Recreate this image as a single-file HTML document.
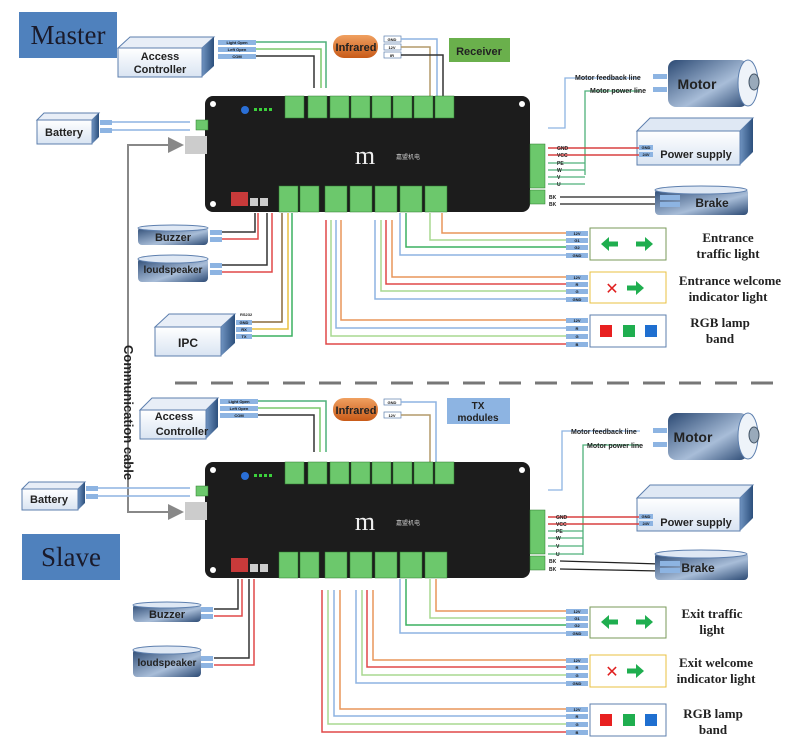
<!DOCTYPE html>
<html><head><meta charset="utf-8"><style>
html,body{margin:0;padding:0;background:#fff;}
svg{display:block;}
text{font-family:"Liberation Sans",sans-serif;}
.t{font-size:4px;fill:#111;font-weight:bold;text-anchor:middle;}
.bl{font-weight:bold;fill:#222;}
.sr{font-family:"Liberation Serif",serif;font-weight:bold;fill:#222;font-size:13px;text-anchor:middle;}
.big{font-family:"Liberation Serif",serif;font-size:27px;fill:#1a1a2a;text-anchor:middle;}
</style></head><body>
<svg width="800" height="746" viewBox="0 0 800 746" xmlns="http://www.w3.org/2000/svg">
<defs>
<linearGradient id="bx" x1="0" y1="0" x2="0" y2="1"><stop offset="0" stop-color="#fff"/><stop offset="1" stop-color="#d9e4f2"/></linearGradient>
<linearGradient id="sd" x1="0" y1="0" x2="1" y2="0"><stop offset="0" stop-color="#6f93c0"/><stop offset="1" stop-color="#2c4f7c"/></linearGradient>
<linearGradient id="cy" x1="0" y1="0" x2="1" y2="1"><stop offset="0" stop-color="#2c4a74"/><stop offset=".6" stop-color="#a8bdd8"/><stop offset="1" stop-color="#2c4a74"/></linearGradient>
<linearGradient id="or" x1="0" y1="0" x2="0" y2="1"><stop offset="0" stop-color="#f0a060"/><stop offset="1" stop-color="#c85a18"/></linearGradient>
<marker id="ar" markerWidth="8" markerHeight="8" refX="7" refY="4" orient="auto"><path d="M0,0 L8,4 L0,8z" fill="#888"/></marker>
<path id="ra" d="M0,-2.5 L9,-2.5 L9,-7 L17,0 L9,7 L9,2.5 L0,2.5z" fill="#1fae4f"/>
<path id="la" d="M0,-2.5 L-9,-2.5 L-9,-7 L-17,0 L-9,7 L-9,2.5 L0,2.5z" fill="#1fae4f"/>
<g id="board">
<rect x="205" y="0" width="325" height="116" rx="8" fill="#1c1c1c"/>
<circle cx="213" cy="8" r="3" fill="#fff"/><circle cx="522" cy="8" r="3" fill="#fff"/><circle cx="213" cy="108" r="3" fill="#fff"/>
<circle cx="245" cy="14" r="4" fill="#2a6fd6"/>
<g fill="#3cd13c"><rect x="254" y="12" width="3" height="3"/><rect x="259" y="12" width="3" height="3"/><rect x="264" y="12" width="3" height="3"/><rect x="269" y="12" width="3" height="3"/></g>
<g fill="#6cc86c" stroke="#2a7a2a" stroke-width=".5">
<rect x="285" y="0" width="19" height="22"/><rect x="308" y="0" width="19" height="22"/><rect x="330" y="0" width="19" height="22"/><rect x="351" y="0" width="19" height="22"/><rect x="372" y="0" width="19" height="22"/><rect x="393" y="0" width="19" height="22"/><rect x="414" y="0" width="19" height="22"/><rect x="435" y="0" width="19" height="22"/>
<rect x="279" y="90" width="19" height="26"/><rect x="300" y="90" width="19" height="26"/><rect x="325" y="90" width="22" height="26"/><rect x="350" y="90" width="22" height="26"/><rect x="375" y="90" width="22" height="26"/><rect x="400" y="90" width="22" height="26"/><rect x="425" y="90" width="22" height="26"/>
<rect x="530" y="48" width="15" height="44"/><rect x="530" y="94" width="15" height="14"/>
<rect x="196" y="24" width="12" height="10"/>
</g>
<rect x="231" y="96" width="17" height="14" fill="#c83a3a"/>
<rect x="250" y="102" width="8" height="8" fill="#ccc"/><rect x="260" y="102" width="8" height="8" fill="#ccc"/>
<rect x="185" y="40" width="22" height="18" fill="#ccc"/>
<text x="365" y="68" style="font-family:'Liberation Serif',serif;font-size:26px;fill:#eee" text-anchor="middle">m</text>
<text x="396" y="63" font-size="6" fill="#ccc" style="font-family:'Liberation Sans','Noto Sans CJK SC',sans-serif">嘉盟机电</text>
</g>
</defs>

<line x1="175" y1="383" x2="780" y2="383" stroke="#777" stroke-width="3" stroke-dasharray="22,14"/>

<polyline points="182,145 128,145 128,512 182,512" fill="none" stroke="#888" stroke-width="2" marker-end="url(#ar)"/>
<line x1="128" y1="145" x2="182" y2="145" stroke="#888" stroke-width="2" marker-end="url(#ar)"/>
<text x="0" y="0" transform="translate(124,345) rotate(90)" font-size="13" class="bl">Communication cable</text>

<!-- MASTER -->
<rect x="19" y="12" width="98" height="46" fill="#4f81bd"/>
<text x="68" y="44" class="big">Master</text>

<polygon points="118,48 130,37 214,37 202,48" fill="#e8eef7" stroke="#5d7fae"/>
<polygon points="202,48 214,37 214,66 202,77" fill="url(#sd)"/>
<rect x="118" y="48" width="84" height="29" fill="url(#bx)" stroke="#5d7fae"/>
<text x="160" y="60" font-size="11" class="bl" text-anchor="middle">Access</text>
<text x="160" y="73" font-size="11" class="bl" text-anchor="middle">Controller</text>
<g fill="#8db4e2"><rect x="218" y="40" width="38" height="5"/><rect x="218" y="47" width="38" height="5"/><rect x="218" y="54" width="38" height="5"/></g>
<text class="t" x="237" y="44">Light Open</text><text class="t" x="237" y="51">Left Open</text><text class="t" x="237" y="58">COM</text>
<polyline points="256,42 326,42 326,88" fill="none" stroke="#4fb07a" stroke-width="1.5"/>
<polyline points="256,49 321,49 321,88" fill="none" stroke="#7ac96b" stroke-width="1.5"/>
<polyline points="256,56 314,56 314,88" fill="none" stroke="#333" stroke-width="1.5"/>

<rect x="333" y="35" width="45" height="23" rx="11" fill="url(#or)"/>
<text x="356" y="51" font-size="11" fill="#222" font-weight="bold" text-anchor="middle">Infrared</text>
<g fill="#fff" stroke="#5d7fae" stroke-width=".7"><rect x="384" y="36" width="17" height="6"/><rect x="384" y="44" width="17" height="6"/><rect x="384" y="52" width="17" height="6"/></g>
<text class="t" x="392" y="41">GND</text><text class="t" x="392" y="49">12V</text><text class="t" x="392" y="57">IR</text>
<polyline points="401,39 437,39 437,96" fill="none" stroke="#8db4e2" stroke-width="1.5"/>
<polyline points="401,47 430,47 430,96" fill="none" stroke="#b39a6a" stroke-width="1.5"/>
<polyline points="401,55 443,55 443,96" fill="none" stroke="#333" stroke-width="1.5"/>
<rect x="449" y="38" width="61" height="24" fill="#6ab04c"/>
<text x="479" y="55" font-size="11" class="bl" text-anchor="middle">Receiver</text>

<polygon points="37,120 44,113 99,113 92,120" fill="#e8eef7" stroke="#5d7fae"/>
<polygon points="92,120 99,113 99,137 92,144" fill="url(#sd)"/>
<rect x="37" y="120" width="55" height="24" fill="url(#bx)" stroke="#5d7fae"/>
<text x="64" y="136" font-size="11" class="bl" text-anchor="middle">Battery</text>
<g fill="#8db4e2"><rect x="100" y="120" width="12" height="5"/><rect x="100" y="128" width="12" height="5"/></g>
<line x1="112" y1="122" x2="190" y2="122" stroke="#8db4e2" stroke-width="1.5"/>
<line x1="112" y1="130" x2="190" y2="130" stroke="#8db4e2" stroke-width="1.5"/>

<use href="#board" y="96"/>

<polyline points="548,128 565,128 565,78 640,78" fill="none" stroke="#8db4e2" stroke-width="1.3"/>
<polyline points="585,175 585,91 640,91" fill="none" stroke="#4fb07a" stroke-width="1.3"/>
<text x="575" y="80" font-size="7" class="bl">Motor feedback line</text>
<text x="590" y="93" font-size="7" class="bl">Motor power line</text>
<rect x="653" y="74" width="14" height="5" fill="#8db4e2"/><rect x="653" y="87" width="14" height="5" fill="#8db4e2"/>
<rect x="668" y="60" width="80" height="47" rx="8" fill="url(#cy)"/>
<ellipse cx="748" cy="83" rx="10" ry="23" fill="#eef3f9" stroke="#5d7fae"/>
<ellipse cx="754" cy="82" rx="5" ry="8" fill="#9ab" stroke="#456"/>
<text x="697" y="89" font-size="14" class="bl" text-anchor="middle">Motor</text>

<polygon points="637,131 650,118 753,118 740,131" fill="#dfe8f4" stroke="#5d7fae"/>
<polygon points="740,131 753,118 753,152 740,165" fill="url(#sd)"/>
<rect x="637" y="131" width="103" height="34" fill="url(#bx)" stroke="#5d7fae"/>
<rect x="639" y="145" width="14" height="5" fill="#8db4e2"/><rect x="639" y="152" width="14" height="5" fill="#8db4e2"/>
<text class="t" x="646" y="149">GND</text><text class="t" x="646" y="156">24V</text>
<text x="696" y="158" font-size="11" class="bl" text-anchor="middle">Power supply</text>
<line x1="548" y1="148" x2="639" y2="148" stroke="#d94040" stroke-width="1.5"/>
<line x1="548" y1="155" x2="639" y2="155" stroke="#d94040" stroke-width="1.5"/>
<g stroke="#4fb07a" stroke-width="1.3"><line x1="548" y1="163" x2="585" y2="163"/><line x1="548" y1="170" x2="585" y2="170"/><line x1="548" y1="177" x2="585" y2="177"/><line x1="548" y1="184" x2="585" y2="184"/></g>
<g font-size="5" class="bl"><text x="557" y="150">GND</text><text x="557" y="157">VCC</text><text x="557" y="165">PE</text><text x="557" y="172">W</text><text x="557" y="179">V</text><text x="557" y="186">U</text><text x="549" y="199">BK</text><text x="549" y="206">BK</text></g>
<line x1="560" y1="197" x2="660" y2="197" stroke="#222" stroke-width="1.3"/>
<line x1="560" y1="204" x2="660" y2="204" stroke="#222" stroke-width="1.3"/>
<rect x="655" y="189" width="93" height="26" rx="4" fill="url(#cy)"/>
<ellipse cx="701" cy="190" rx="46" ry="4" fill="#dfe8f4" stroke="#5d7fae"/>
<rect x="660" y="195" width="20" height="5" fill="#8db4e2"/><rect x="660" y="202" width="20" height="5" fill="#8db4e2"/>
<text x="712" y="207" font-size="12" class="bl" text-anchor="middle">Brake</text>

<g fill="none" stroke-width="1.5">
<polyline points="442,213 442,233 568,233" stroke="#e8955a"/>
<polyline points="430,213 430,240 568,240" stroke="#a8d890"/>
<polyline points="406,213 406,247 568,247" stroke="#3cb060"/>
<polyline points="400,213 400,255 568,255" stroke="#8db4e2"/>
<polyline points="392,220 392,277 568,277" stroke="#e8955a"/>
<polyline points="386,220 386,284 568,284" stroke="#e04848"/>
<polyline points="381,220 381,291 568,291" stroke="#a8d890"/>
<polyline points="375,220 375,299 568,299" stroke="#8db4e2"/>
<polyline points="341,220 341,320 568,320" stroke="#e8955a"/>
<polyline points="336,220 336,328 568,328" stroke="#8db4e2"/>
<polyline points="331,220 331,336 568,336" stroke="#a8d890"/>
<polyline points="326,220 326,344 568,344" stroke="#e04848"/>
<polyline points="255,213 255,232 218,232" stroke="#333"/>
<polyline points="258,213 258,239 218,239" stroke="#e04848"/>
<polyline points="267,213 267,265 218,265" stroke="#333"/>
<polyline points="272,213 272,272 218,272" stroke="#e04848"/>
<polyline points="282,213 282,322 250,322" stroke="#8a6a3a"/>
<polyline points="288,213 288,329 250,329" stroke="#e8c040"/>
<polyline points="292,213 292,336 250,336" stroke="#3cb060"/>
</g>
<rect x="138" y="227" width="70" height="18" rx="4" fill="url(#cy)"/><ellipse cx="173" cy="228" rx="35" ry="3" fill="#dfe8f4" stroke="#5d7fae"/>
<text x="173" y="241" font-size="11" class="bl" text-anchor="middle">Buzzer</text>
<rect x="210" y="230" width="12" height="5" fill="#8db4e2"/><rect x="210" y="237" width="12" height="5" fill="#8db4e2"/>
<rect x="138" y="258" width="70" height="24" rx="4" fill="url(#cy)"/><ellipse cx="173" cy="259" rx="35" ry="4" fill="#dfe8f4" stroke="#5d7fae"/>
<text x="173" y="273" font-size="10" class="bl" text-anchor="middle">loudspeaker</text>
<rect x="210" y="263" width="12" height="5" fill="#8db4e2"/><rect x="210" y="270" width="12" height="5" fill="#8db4e2"/>
<polygon points="155,327 169,314 235,314 221,327" fill="#e8eef7" stroke="#5d7fae"/>
<polygon points="221,327 235,314 235,343 221,356" fill="url(#sd)"/>
<rect x="155" y="327" width="66" height="29" fill="url(#bx)" stroke="#5d7fae"/>
<text x="188" y="347" font-size="12" class="bl" text-anchor="middle">IPC</text>
<text x="240" y="316" font-size="4" class="bl">RS232</text>
<g fill="#8db4e2"><rect x="236" y="320" width="16" height="5"/><rect x="236" y="327" width="16" height="5"/><rect x="236" y="334" width="16" height="5"/></g>
<text class="t" x="244" y="324">GND</text><text class="t" x="244" y="331">RX</text><text class="t" x="244" y="338">TX</text>

<g fill="#8db4e2"><rect x="566" y="231" width="22" height="5"/><rect x="566" y="238" width="22" height="5"/><rect x="566" y="245" width="22" height="5"/><rect x="566" y="253" width="22" height="5"/>
<rect x="566" y="275" width="22" height="5"/><rect x="566" y="282" width="22" height="5"/><rect x="566" y="289" width="22" height="5"/><rect x="566" y="297" width="22" height="5"/>
<rect x="566" y="318" width="22" height="5"/><rect x="566" y="326" width="22" height="5"/><rect x="566" y="334" width="22" height="5"/><rect x="566" y="342" width="22" height="5"/></g>
<g class="t"><text x="577" y="235">12V</text><text x="577" y="242">G1</text><text x="577" y="249">G2</text><text x="577" y="257">GND</text>
<text x="577" y="279">12V</text><text x="577" y="286">R</text><text x="577" y="293">G</text><text x="577" y="301">GND</text>
<text x="577" y="322">12V</text><text x="577" y="330">R</text><text x="577" y="338">G</text><text x="577" y="346">B</text></g>
<rect x="590" y="228" width="76" height="32" fill="#fff" stroke="#7a9a5a"/>
<use href="#la" x="618" y="244"/><use href="#ra" x="636" y="244"/>
<rect x="590" y="272" width="76" height="31" fill="#fff" stroke="#e8c040"/>
<text x="612" y="294" font-size="16" fill="#e02020" text-anchor="middle">✕</text>
<use href="#ra" x="627" y="288"/>
<rect x="590" y="315" width="76" height="32" fill="#fff" stroke="#5d7fae"/>
<rect x="600" y="325" width="12" height="12" fill="#e82020"/><rect x="623" y="325" width="12" height="12" fill="#1fae4f"/><rect x="645" y="325" width="12" height="12" fill="#1f6fd0"/>
<text class="sr" x="728" y="242">Entrance</text><text class="sr" x="728" y="258">traffic light</text>
<text class="sr" x="730" y="285">Entrance welcome</text><text class="sr" x="728" y="301">indicator light</text>
<text class="sr" x="720" y="327">RGB lamp</text><text class="sr" x="720" y="343">band</text>

<!-- SLAVE -->
<rect x="22" y="534" width="98" height="46" fill="#4f81bd"/>
<text x="71" y="566" class="big">Slave</text>

<polygon points="140,410 152,398 218,398 206,410" fill="#e8eef7" stroke="#5d7fae"/>
<polygon points="206,410 218,398 218,427 206,439" fill="url(#sd)"/>
<rect x="140" y="410" width="66" height="29" fill="url(#bx)" stroke="#5d7fae"/>
<text x="174" y="420" font-size="11" class="bl" text-anchor="middle">Access</text>
<text x="182" y="435" font-size="11" class="bl" text-anchor="middle">Controller</text>
<g fill="#8db4e2"><rect x="220" y="399" width="38" height="5"/><rect x="220" y="406" width="38" height="5"/><rect x="220" y="413" width="38" height="5"/></g>
<text class="t" x="239" y="403">Light Open</text><text class="t" x="239" y="410">Left Open</text><text class="t" x="239" y="417">COM</text>
<polyline points="258,401 326,401 326,452" fill="none" stroke="#4fb07a" stroke-width="1.5"/>
<polyline points="258,408 320,408 320,452" fill="none" stroke="#7ac96b" stroke-width="1.5"/>
<polyline points="258,415 314,415 314,452" fill="none" stroke="#333" stroke-width="1.5"/>

<rect x="333" y="398" width="45" height="23" rx="11" fill="url(#or)"/>
<text x="356" y="414" font-size="11" fill="#222" font-weight="bold" text-anchor="middle">Infrared</text>
<g fill="#fff" stroke="#5d7fae" stroke-width=".7"><rect x="384" y="399" width="17" height="6"/><rect x="384" y="412" width="17" height="6"/></g>
<text class="t" x="392" y="404">GND</text><text class="t" x="392" y="417">12V</text>
<polyline points="401,402 436,402 436,462" fill="none" stroke="#8db4e2" stroke-width="1.5"/>
<polyline points="401,415 430,415 430,462" fill="none" stroke="#b39a6a" stroke-width="1.5"/>
<rect x="447" y="398" width="63" height="26" fill="#8db4e2"/>
<text x="478" y="409" font-size="10" class="bl" text-anchor="middle">TX</text>
<text x="478" y="421" font-size="10" class="bl" text-anchor="middle">modules</text>

<polygon points="22,489 29,482 85,482 78,489" fill="#e8eef7" stroke="#5d7fae"/>
<polygon points="78,489 85,482 85,503 78,510" fill="url(#sd)"/>
<rect x="22" y="489" width="56" height="21" fill="url(#bx)" stroke="#5d7fae"/>
<text x="49" y="503" font-size="11" class="bl" text-anchor="middle">Battery</text>
<g fill="#8db4e2"><rect x="86" y="486" width="12" height="5"/><rect x="86" y="494" width="12" height="5"/></g>
<line x1="98" y1="488" x2="190" y2="488" stroke="#8db4e2" stroke-width="1.5"/>
<line x1="98" y1="496" x2="190" y2="496" stroke="#8db4e2" stroke-width="1.5"/>

<use href="#board" y="462"/>

<polyline points="548,490 562,490 562,431 640,431" fill="none" stroke="#8db4e2" stroke-width="1.3"/>
<polyline points="583,555 583,445 640,445" fill="none" stroke="#4fb07a" stroke-width="1.3"/>
<text x="571" y="434" font-size="7" class="bl">Motor feedback line</text>
<text x="587" y="448" font-size="7" class="bl">Motor power line</text>
<rect x="653" y="428" width="14" height="5" fill="#8db4e2"/><rect x="653" y="442" width="14" height="5" fill="#8db4e2"/>
<rect x="668" y="413" width="80" height="47" rx="8" fill="url(#cy)"/>
<ellipse cx="748" cy="436" rx="10" ry="23" fill="#eef3f9" stroke="#5d7fae"/>
<ellipse cx="754" cy="435" rx="5" ry="8" fill="#9ab" stroke="#456"/>
<text x="693" y="442" font-size="14" class="bl" text-anchor="middle">Motor</text>

<polygon points="637,498 650,485 753,485 740,498" fill="#dfe8f4" stroke="#5d7fae"/>
<polygon points="740,498 753,485 753,518 740,531" fill="url(#sd)"/>
<rect x="637" y="498" width="103" height="33" fill="url(#bx)" stroke="#5d7fae"/>
<rect x="639" y="514" width="14" height="5" fill="#8db4e2"/><rect x="639" y="521" width="14" height="5" fill="#8db4e2"/>
<text class="t" x="646" y="518">GND</text><text class="t" x="646" y="525">24V</text>
<text x="696" y="526" font-size="11" class="bl" text-anchor="middle">Power supply</text>
<line x1="548" y1="517" x2="639" y2="517" stroke="#d94040" stroke-width="1.5"/>
<line x1="548" y1="524" x2="639" y2="524" stroke="#d94040" stroke-width="1.5"/>
<g stroke="#4fb07a" stroke-width="1.3"><line x1="548" y1="531" x2="583" y2="531"/><line x1="548" y1="538" x2="583" y2="538"/><line x1="548" y1="546" x2="583" y2="546"/><line x1="548" y1="554" x2="583" y2="554"/></g>
<g font-size="5" class="bl"><text x="556" y="519">GND</text><text x="556" y="526">VCC</text><text x="556" y="533">PE</text><text x="556" y="540">W</text><text x="556" y="548">V</text><text x="556" y="556">U</text><text x="549" y="563">BK</text><text x="549" y="571">BK</text></g>
<line x1="560" y1="561" x2="660" y2="564" stroke="#222" stroke-width="1.3"/>
<line x1="560" y1="569" x2="660" y2="571" stroke="#222" stroke-width="1.3"/>
<rect x="655" y="553" width="93" height="27" rx="4" fill="url(#cy)"/>
<ellipse cx="701" cy="554" rx="46" ry="4" fill="#dfe8f4" stroke="#5d7fae"/>
<rect x="660" y="561" width="20" height="5" fill="#8db4e2"/><rect x="660" y="568" width="20" height="5" fill="#8db4e2"/>
<text x="698" y="572" font-size="12" class="bl" text-anchor="middle">Brake</text>

<g fill="none" stroke-width="1.5">
<polyline points="436,579 436,611 568,611" stroke="#e8955a"/>
<polyline points="430,579 430,618 568,618" stroke="#a8d890"/>
<polyline points="406,579 406,625 568,625" stroke="#3cb060"/>
<polyline points="400,579 400,633 568,633" stroke="#8db4e2"/>
<polyline points="373,590 373,660 568,660" stroke="#e8955a"/>
<polyline points="367,590 367,667 568,667" stroke="#e04848"/>
<polyline points="362,590 362,675 568,675" stroke="#a8d890"/>
<polyline points="356,590 356,683 568,683" stroke="#8db4e2"/>
<polyline points="340,590 340,709 568,709" stroke="#e8955a"/>
<polyline points="334,590 334,716 568,716" stroke="#8db4e2"/>
<polyline points="328,590 328,724 568,724" stroke="#a8d890"/>
<polyline points="322,590 322,732 568,732" stroke="#e04848"/>
<polyline points="238,579 238,609 214,609" stroke="#333"/>
<polyline points="242,579 242,616 214,616" stroke="#e04848"/>
<polyline points="249,579 249,658 214,658" stroke="#333"/>
<polyline points="254,579 254,665 214,665" stroke="#e04848"/>
</g>
<rect x="133" y="604" width="68" height="18" rx="4" fill="url(#cy)"/><ellipse cx="167" cy="605" rx="34" ry="3" fill="#dfe8f4" stroke="#5d7fae"/>
<text x="167" y="618" font-size="11" class="bl" text-anchor="middle">Buzzer</text>
<rect x="201" y="607" width="12" height="5" fill="#8db4e2"/><rect x="201" y="614" width="12" height="5" fill="#8db4e2"/>
<rect x="133" y="649" width="68" height="28" rx="4" fill="url(#cy)"/><ellipse cx="167" cy="650" rx="34" ry="4" fill="#dfe8f4" stroke="#5d7fae"/>
<text x="167" y="666" font-size="10" class="bl" text-anchor="middle">loudspeaker</text>
<rect x="201" y="656" width="12" height="5" fill="#8db4e2"/><rect x="201" y="663" width="12" height="5" fill="#8db4e2"/>

<g fill="#8db4e2"><rect x="566" y="609" width="22" height="5"/><rect x="566" y="616" width="22" height="5"/><rect x="566" y="623" width="22" height="5"/><rect x="566" y="631" width="22" height="5"/>
<rect x="566" y="658" width="22" height="5"/><rect x="566" y="665" width="22" height="5"/><rect x="566" y="673" width="22" height="5"/><rect x="566" y="681" width="22" height="5"/>
<rect x="566" y="707" width="22" height="5"/><rect x="566" y="714" width="22" height="5"/><rect x="566" y="722" width="22" height="5"/><rect x="566" y="730" width="22" height="5"/></g>
<g class="t"><text x="577" y="613">12V</text><text x="577" y="620">G1</text><text x="577" y="627">G2</text><text x="577" y="635">GND</text>
<text x="577" y="662">12V</text><text x="577" y="669">R</text><text x="577" y="677">G</text><text x="577" y="685">GND</text>
<text x="577" y="711">12V</text><text x="577" y="718">R</text><text x="577" y="726">G</text><text x="577" y="734">B</text></g>
<rect x="590" y="607" width="76" height="31" fill="#fff" stroke="#7a9a5a"/>
<use href="#la" x="618" y="622"/><use href="#ra" x="636" y="622"/>
<rect x="590" y="655" width="76" height="32" fill="#fff" stroke="#e8c040"/>
<text x="612" y="677" font-size="16" fill="#e02020" text-anchor="middle">✕</text>
<use href="#ra" x="627" y="671"/>
<rect x="590" y="704" width="76" height="32" fill="#fff" stroke="#5d7fae"/>
<rect x="600" y="714" width="12" height="12" fill="#e82020"/><rect x="623" y="714" width="12" height="12" fill="#1fae4f"/><rect x="645" y="714" width="12" height="12" fill="#1f6fd0"/>
<text class="sr" x="712" y="618">Exit traffic</text><text class="sr" x="712" y="634">light</text>
<text class="sr" x="716" y="667">Exit welcome</text><text class="sr" x="716" y="683">indicator light</text>
<text class="sr" x="713" y="718">RGB lamp</text><text class="sr" x="713" y="734">band</text>
</svg>
</body></html>
